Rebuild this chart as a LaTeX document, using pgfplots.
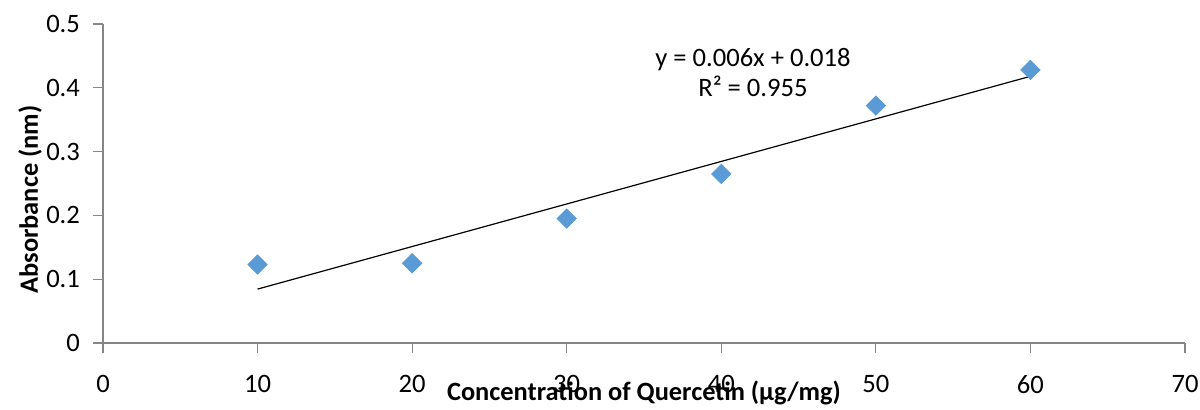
\documentclass[border=0pt]{standalone}
\usepackage{pgfplots}
\pgfplotsset{compat=1.18}
\usepackage{fontspec}
\setmainfont{Carlito}
\definecolor{mk}{HTML}{5B9BD5}
\definecolor{axgray}{HTML}{868686}
\begin{document}
\begin{tikzpicture}
\begin{axis}[
  name=ax,
  scale only axis,
  width=541pt, height=159.5pt,
  xmin=0, xmax=70, ymin=0, ymax=0.5,
  xtick={0,10,...,70},
  ytick={0,0.1,...,0.5},
  axis lines*=left,
  axis line style={axgray, line width=0.6pt},
  tick style={axgray, line width=0.6pt},
  tick align=outside,
  major tick length=5pt,
  tick label style={font=\fontsize{13.3}{15}\selectfont},
  /pgf/number format/assume math mode=true,
  yticklabel style={/pgf/number format/fixed, /pgf/number format/precision=1, xshift=-3pt},
  xticklabel style={yshift=-7.5pt},
  xlabel={\textbf{Concentration of Quercetin (μg/mg)}},
  ylabel={\textbf{Absorbance (nm)}},
  label style={font=\fontsize{13.2}{15}\selectfont},
  xlabel style={at={(axis description cs:0.5,-0.157)}, anchor=center},
  ylabel style={at={(axis description cs:-0.0675,0.45)}, anchor=center},
  clip=false,
]
\addplot[only marks, mark=square*, mark size=3.4pt, mark options={fill=mk, draw=mk, rotate=45}]
  coordinates {(10,0.123) (20,0.125) (30,0.195) (40,0.265) (50,0.372) (60,0.428)};
\addplot[black, line width=0.6pt] coordinates {(10,0.0845) (60,0.418)};
\node[font=\fontsize{13.3}{15}\selectfont, align=center] at (axis cs:42.05,0.424)
  {y = 0.006x + 0.018\\[0pt] R² = 0.955};
\end{axis}
\pgfresetboundingbox
\path ([xshift=-51.5pt,yshift=-33.5pt]ax.south west) rectangle ([xshift=7.5pt,yshift=12pt]ax.north east);
\end{tikzpicture}
\end{document}
